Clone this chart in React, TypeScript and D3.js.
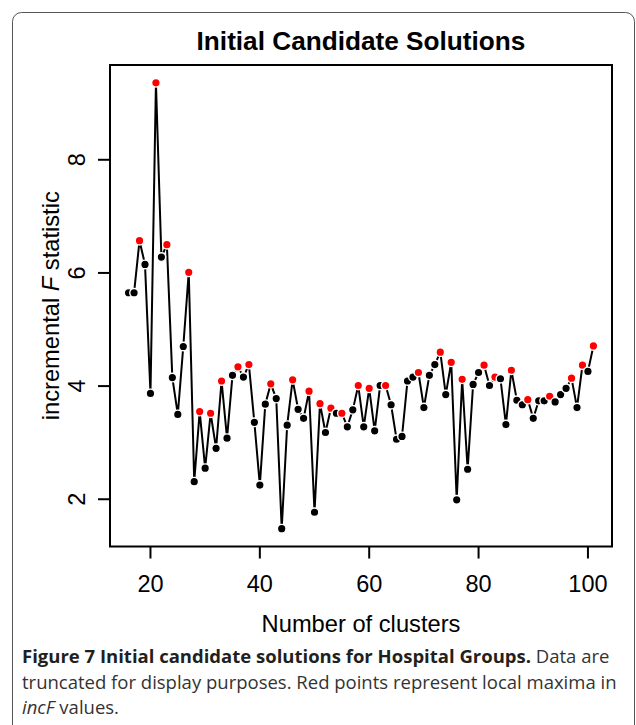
import React from 'react';
import * as d3 from 'd3';

// number of clusters (x) and incremental F values
const clusters: number[] = d3.range(16, 102);
const incF: number[] = [
  5.65, 5.65, 6.57, 6.15, 3.87, 9.36, 6.28, 6.5, 4.15, 3.5,
  4.7, 6.01, 2.31, 3.55, 2.55, 3.52, 2.9, 4.09, 3.08, 4.19,
  4.34, 4.16, 4.38, 3.36, 2.25, 3.68, 4.04, 3.78, 1.48, 3.31,
  4.11, 3.59, 3.43, 3.91, 1.77, 3.69, 3.18, 3.61, 3.52, 3.52,
  3.28, 3.58, 4.01, 3.28, 3.96, 3.21, 4.01, 4.01, 3.67, 3.06,
  3.11, 4.09, 4.16, 4.24, 3.62, 4.19, 4.38, 4.6, 3.85, 4.42,
  1.99, 4.12, 2.53, 4.03, 4.24, 4.37, 4.01, 4.16, 4.13, 3.32,
  4.28, 3.75, 3.67, 3.76, 3.43, 3.74, 3.74, 3.82, 3.72, 3.85,
  3.96, 4.14, 3.62, 4.37, 4.26, 4.71,
];
// clusters flagged as local maxima (red points)
const localMaxima: number[] = [
  18, 21, 23, 27, 29, 31, 33, 36, 38, 42, 46, 49, 51, 53, 55, 58, 60, 63,
  69, 73, 75, 77, 81, 83, 86, 89, 93, 97, 99, 101,
];
const xTicks: number[] = [20, 40, 60, 80, 100];
const yTicks: number[] = [2, 4, 6, 8];

const W = 636;
const H = 725;
const plot = { left: 110, right: 612, top: 65, bottom: 546.5 };
const axisFont = 'Liberation Sans, Arial, Helvetica, sans-serif';
const captionFont = '"Open Sans", "Noto Sans", sans-serif';

export default function App() {
  // R style 4% padding around the data range
  const xPad = (d3.max(clusters)! - d3.min(clusters)!) * 0.04;
  const yPad = (d3.max(incF)! - d3.min(incF)!) * 0.04;
  const x = d3.scaleLinear()
    .domain([d3.min(clusters)! - xPad, d3.max(clusters)! + xPad])
    .range([plot.left, plot.right]);
  const y = d3.scaleLinear()
    .domain([d3.min(incF)! - yPad, d3.max(incF)! + yPad])
    .range([plot.bottom, plot.top]);

  const pts = clusters.map((c, i) => ({ c, v: incF[i], peak: localMaxima.includes(c) }));
  const line = d3.line<{ c: number; v: number }>()
    .x(d => x(d.c))
    .y(d => y(d.v));

  const tickLen = 12;
  const midY = (plot.top + plot.bottom) / 2;
  const midX = (plot.left + plot.right) / 2;

  return (
    <div style={{ position: 'absolute', left: 0, top: 0 }}>
      <svg width={W} height={H} style={{ display: 'block', background: '#fff' }}>
        {/* figure frame */}
        <rect x={12.5} y={12.5} width={622} height={760} rx={9} fill="none" stroke="#555" strokeWidth={1} />

        {/* title */}
        <text x={midX} y={50} textAnchor="middle" fontFamily={axisFont} fontWeight="bold" fontSize={26.2} fill="#000">
          Initial Candidate Solutions
        </text>

        {/* series */}
        <path d={line(pts) || ''} fill="none" stroke="#000" strokeWidth={2} strokeLinejoin="miter" />
        {pts.map(p => (
          <circle
            key={p.c}
            cx={x(p.c)}
            cy={y(p.v)}
            r={4.3}
            fill={p.peak ? '#ff0000' : '#000'}
            stroke="#fff"
            strokeWidth={1.4}
          />
        ))}

        {/* box */}
        <rect x={plot.left} y={plot.top} width={plot.right - plot.left} height={plot.bottom - plot.top}
          fill="none" stroke="#000" strokeWidth={2} />

        {/* x axis */}
        {xTicks.map(t => (
          <g key={t} transform={`translate(${x(t)},0)`}>
            <line y1={plot.bottom} y2={plot.bottom + tickLen} stroke="#000" strokeWidth={2} />
            <text y={592} textAnchor="middle" fontFamily={axisFont} fontSize={23.5} fill="#000">{t}</text>
          </g>
        ))}
        <text x={midX} y={632} textAnchor="middle" fontFamily={axisFont} fontSize={23.7} fill="#000">
          Number of clusters
        </text>

        {/* y axis */}
        {yTicks.map(t => (
          <g key={t} transform={`translate(0,${y(t)})`}>
            <line x1={plot.left} x2={plot.left - tickLen} stroke="#000" strokeWidth={2} />
            <text transform={`translate(85,0) rotate(-90)`} textAnchor="middle" fontFamily={axisFont} fontSize={23.5} fill="#000">{t}</text>
          </g>
        ))}
        <text transform={`translate(59,${midY}) rotate(-90)`} textAnchor="middle" fontFamily={axisFont} fontSize={23.7} fill="#000">
          incremental <tspan fontStyle="italic">F</tspan> statistic
        </text>

        {/* caption */}
        <text x={22} y={663} fontFamily={captionFont} fontSize={18.5} fill="#231f20">
          <tspan fontWeight="bold">Figure 7 Initial candidate solutions for Hospital Groups.</tspan>
          <tspan fill="#333"> Data are</tspan>
        </text>
        <text x={22} y={689} fontFamily={captionFont} fontSize={18.5} fill="#333">
          truncated for display purposes. Red points represent local maxima in
        </text>
        <text x={22} y={714} fontFamily={captionFont} fontSize={18.5} fill="#333">
          <tspan fontStyle="italic">incF</tspan> values.
        </text>
      </svg>
    </div>
  );
}
